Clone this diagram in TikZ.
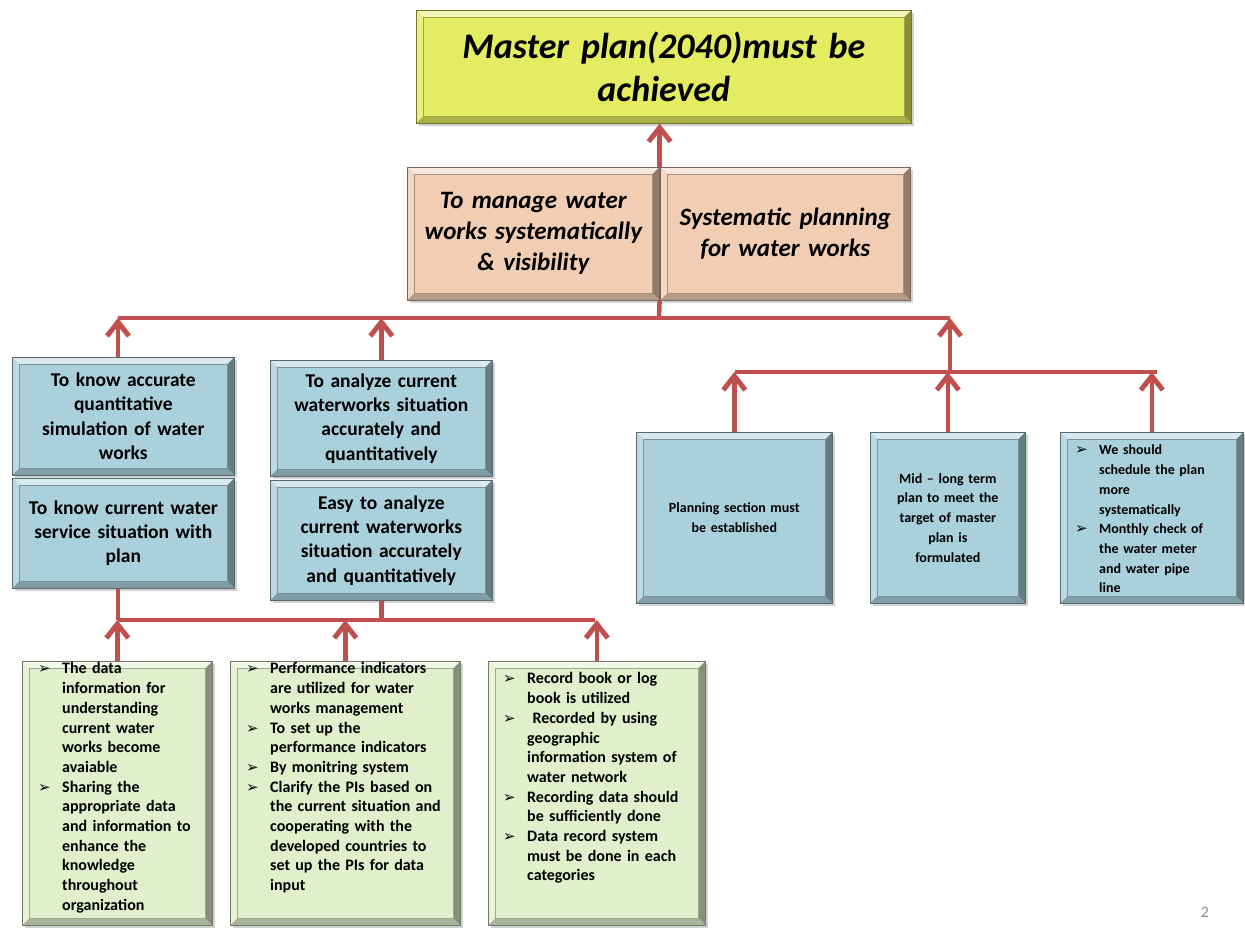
\documentclass[tikz,border=0pt]{standalone}
\usepackage{fontspec}
\setmainfont{Carlito}
\newfontfamily\dejavu{DejaVu Sans}
\usetikzlibrary{arrows.meta,shadows}

\definecolor{redline}{RGB}{192,80,77}
\definecolor{ylw}{RGB}{228,236,98}
\definecolor{peach}{RGB}{241,205,179}
\definecolor{sky}{RGB}{170,208,220}
\definecolor{leaf}{RGB}{225,239,204}

% bullet item with hanging indent; \\ breaks a line inside the item
\newcommand\bitem[2][20pt]{\par\begingroup\let\\\newline
  \noindent\hangindent=#1\hangafter=1%
  \makebox[#1][l]{\raisebox{0pt}{\dejavu\fontsize{15}{15}\selectfont ➢}}#2\par\endgroup}

\tikzset{
  panel/.style={fill=#1, draw=#1!50!black, line width=0.6pt, inner sep=0pt,
    anchor=north west, align=center,
    drop shadow={shadow xshift=3pt, shadow yshift=-3pt, opacity=0.35},
    path picture={
      \path (path picture bounding box.north west) coordinate (pnw)
            (path picture bounding box.north east) coordinate (pne)
            (path picture bounding box.south west) coordinate (psw)
            (path picture bounding box.south east) coordinate (pse);
      \fill[#1!45!white] (pnw) -- (pne) -- ([shift={(-7pt,-7pt)}]pne) -- ([shift={(7pt,-7pt)}]pnw) -- cycle;
      \fill[#1!80!white] (pnw) -- (psw) -- ([shift={(7pt,7pt)}]psw) -- ([shift={(7pt,-7pt)}]pnw) -- cycle;
      \fill[#1!60!black] (pne) -- (pse) -- ([shift={(-7pt,7pt)}]pse) -- ([shift={(-7pt,-7pt)}]pne) -- cycle;
      \fill[#1!75!black] (psw) -- (pse) -- ([shift={(-7pt,7pt)}]pse) -- ([shift={(7pt,7pt)}]psw) -- cycle;
      \draw[#1!70!black, line width=0.5pt] ([shift={(7pt,-7pt)}]pnw) rectangle ([shift={(-7pt,7pt)}]pse);
    }},
  sz/.style 2 args={minimum width=#1pt, minimum height=#2pt},
  bigtxt/.style={font=\bfseries\itshape\fontsize{36}{43}\selectfont},
  midtxt/.style={font=\bfseries\itshape\fontsize{25}{31}\selectfont},
  bluetxt/.style={font=\bfseries\fontsize{19.5}{24.3}\selectfont},
  smalltxt/.style={font=\bfseries\fontsize{14}{19.7}\selectfont},
  listtxt/.style={font=\bfseries\fontsize{16}{19.7}\selectfont, anchor=north west,
    inner sep=0pt, align=left, text width=#1pt},
  link/.style={draw=redline, line width=4.5pt},
  uparrow/.style={link, -{Straight Barb[length=14pt,width=22pt,line width=5pt]}},
}

\begin{document}
\begin{tikzpicture}[x=1pt, y=-1pt]
\useasboundingbox[fill=white] (0,0) rectangle (1245,928);

% goal and objectives
\node[panel=ylw, sz={495}{113}, bigtxt, text width=480pt] (master) at (416,10)
  {Master plan(2040)must be\\achieved};
\node[panel=peach, sz={252}{133}, midtxt, text width=240pt] (objA) at (407,167)
  {To manage  water\\works systematically\\\& visibility};
\node[panel=peach, sz={250}{133}, midtxt, text width=240pt] (objB) at (660,167)
  {Systematic planning\\for water works};

% left group of outcomes
\node[panel=sky, sz={222}{118}, bluetxt, text width=215pt] (know1) at (12,357)
  {To know accurate\\quantitative\\simulation of water\\works};
\node[panel=sky, sz={222}{110}, bluetxt, text width=215pt] (know2) at (12,478)
  {To know current water\\service situation with\\plan};
\node[panel=sky, sz={222}{116}, bluetxt, text width=215pt] (anal1) at (270,360)
  {To analyze current\\waterworks situation\\accurately and\\quantitatively};
\node[panel=sky, sz={222}{120}, bluetxt, text width=215pt] (anal2) at (270,480)
  {Easy to analyze\\current waterworks\\situation accurately\\and quantitatively};

% right group of outcomes
\node[panel=sky, sz={196}{171}, smalltxt, text width=185pt] (plan1) at (636,432)
  {Planning section must\\be established};
\node[panel=sky, sz={155}{171}, smalltxt, text width=150pt] (plan2) at (870,432)
  {Mid -- long term\\plan to meet the\\target of master\\plan is\\formulated};
\node[panel=sky, sz={183}{171}] (plan3) at (1060,432) {};
\node[listtxt=200, font=\bfseries\fontsize{14}{19.7}\selectfont] (plan3txt) at (1075,435)
  {\bitem[24pt]{We should\\schedule the plan\\more\\systematically}
   \bitem[24pt]{Monthly check of\\the water meter\\and water pipe\\line}};

% activities
\node[panel=leaf, sz={190}{264}] (act1) at (22,661) {};
\node[listtxt=250] (act1txt) at (38,654)
  {\bitem[24pt]{The data\\information for\\understanding\\current water\\works  become\\avaiable}
   \bitem[24pt]{Sharing the\\appropriate data\\and information to\\enhance the\\knowledge\\throughout\\organization}};
\node[panel=leaf, sz={230}{264}] (act2) at (230,661) {};
\node[listtxt=280] (act2txt) at (246,654)
  {\bitem[24pt]{Performance indicators\\are  utilized for water\\works management}
   \bitem[24pt]{To set up the\\performance  indicators}
   \bitem[24pt]{By monitring system}
   \bitem[24pt]{Clarify the PIs based on\\the current situation and\\cooperating with the\\developed countries to\\set up the PIs for data\\input}};
\node[panel=leaf, sz={217}{264}] (act3) at (488,661) {};
\node[listtxt=260] (act3txt) at (503,664)
  {\bitem[24pt]{Record book or log\\book is utilized}
   \bitem[24pt]{\ Recorded by using\\geographic\\information system of\\water network}
   \bitem[24pt]{Recording data should\\be sufficiently done}
   \bitem[24pt]{Data record system\\must be done in each\\categories}};

% bus junction points
\coordinate (busA) at (659,318);
\coordinate (busAw) at (118,318);
\coordinate (busAe) at (950,318);
\coordinate (busBw) at (735,372);
\coordinate (busBe) at (1157,372);
\coordinate (busCw) at (118,620);
\coordinate (busCe) at (595,620);

% connectors
\draw[uparrow] (objA.north east) -- (objA.north east |- master.south);
\draw[link] (objA.south east) -- (busA);
\draw[link] (busAw) -- (busAe);
\draw[uparrow] (busAw |- know1.north) -- (busAw);
\draw[uparrow] (anal1.north) -- (anal1.north |- busAw);
\draw[uparrow] (busAe |- busBw) -- (busAe);

\draw[link] (busBw) -- (busBe);
\draw[uparrow] (plan1.north) -- (plan1.north |- busBw);
\draw[uparrow] (plan2.north) -- (plan2.north |- busBw);
\draw[uparrow] (plan3.north) -- (plan3.north |- busBw);

\draw[link] (busCw |- know2.south) -- (busCw);
\draw[link] (anal2.south) -- (anal2.south |- busCw);
\draw[link] (busCw) -- (busCe);
\draw[uparrow] (act1.north) -- (act1.north |- busCw);
\draw[uparrow] (act2.north) -- (act2.north |- busCw);
\draw[uparrow] (act3.north) -- (act3.north |- busCw);

% page number
\node[text=black!45, font=\fontsize{16}{16}\selectfont] (pagenum) at (1205,912) {2};
\end{tikzpicture}
\end{document}
